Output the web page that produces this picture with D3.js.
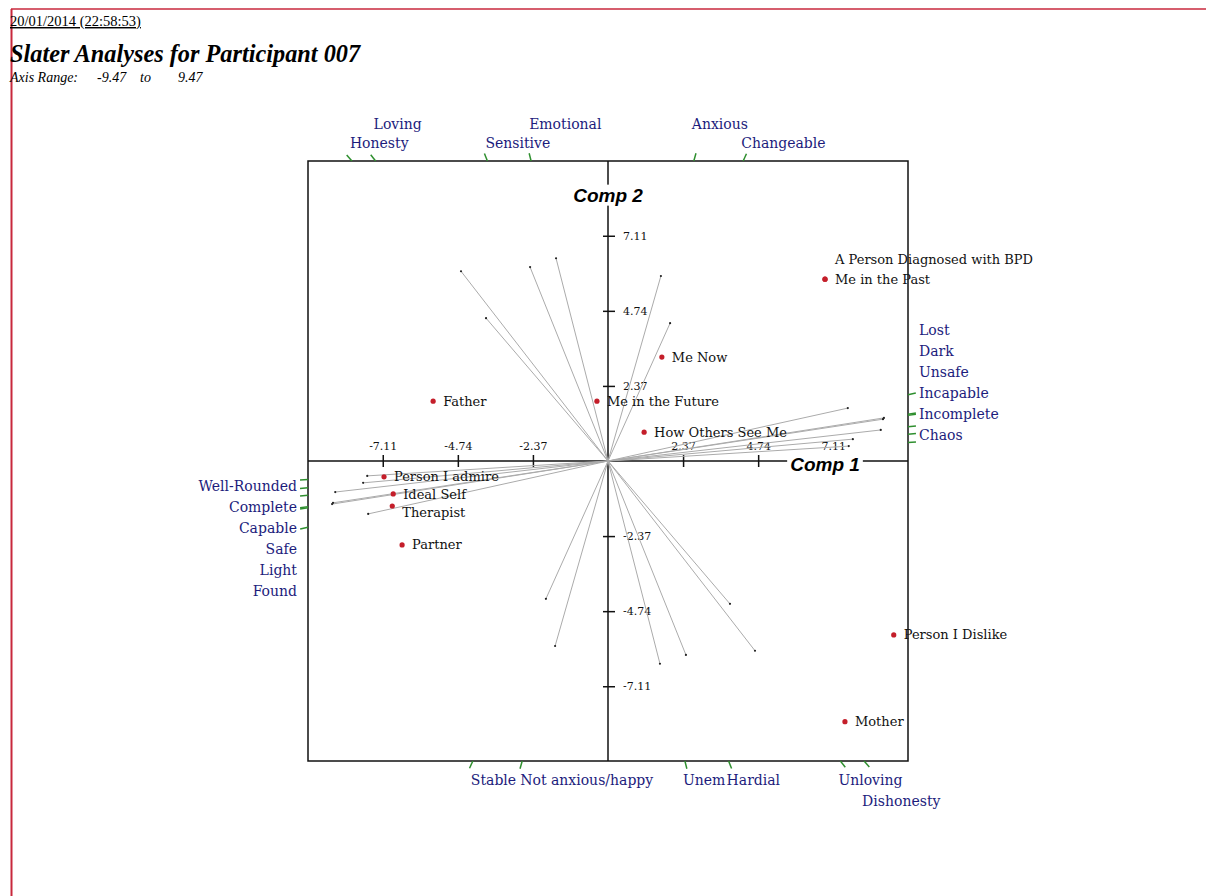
<!DOCTYPE html>
<html>
<head>
<meta charset="utf-8">
<script src="https://cdn.jsdelivr.net/npm/d3@7"></script>
<style>
  body { margin: 0; background: #fff; }
</style>
</head>
<body>
<div id="chart"></div>
<script>
// header text
const stamp = "20/01/2014 (22:58:53)";
const title = "Slater Analyses for Participant 007";
const axisRange = 9.47;
const tickValues = [-7.11, -4.74, -2.37, 2.37, 4.74, 7.11];

// elements: Comp 1 / Comp 2 scores
const elementNames = ["Me in the Past", "A Person Diagnosed with BPD", "Me Now", "Me in the Future",
    "How Others See Me", "Father", "Person I admire", "Ideal Self", "Therapist", "Partner",
    "Person I Dislike", "Mother"];
const elementX = [6.85, 6.85, 1.70, -0.35, 1.14, -5.52, -7.07, -6.78, -6.81, -6.50, 9.02, 7.48];
const elementY = [5.74, 5.74, 3.28, 1.89, 0.91, 1.89, -0.50, -1.04, -1.42, -2.65, -5.49, -8.23];

// constructs: one pole, opposite pole, loadings
const poleA = ["Loving", "Honesty", "Emotional", "Sensitive", "Anxious", "Changeable",
    "Lost", "Dark", "Unsafe", "Incapable", "Incomplete", "Chaos"];
const poleB = ["Unloving", "Dishonesty", "Unem", "Hardial", "Not anxious/happy", "Stable",
    "Found", "Light", "Safe", "Capable", "Complete", "Well-Rounded"];
const constructX = [-4.64, -3.85, -1.64, -2.46, 1.67, 1.96, 8.61, 7.73, 8.71, 7.57, 8.68, 7.60];
const constructY = [5.99, 4.51, 6.40, 6.12, 5.84, 4.35, 0.98, 0.69, 1.36, 1.67, 1.32, 0.47];

// labels that go on the outer row above / below the frame
const outerRow = ["Loving", "Emotional", "Anxious", "Dishonesty"];

const svgWidth = 1206;
const svgHeight = 896;
const frame = { left: 308, right: 908, top: 161, bottom: 761 };
const serif = "'DejaVu Serif', serif";
const times = "'Liberation Serif', serif";
const navy = "#1c1c7c";
const tickGreen = "#2f8f2f";

let svg = d3.select("#chart").append("svg")
    .attr("width", svgWidth).attr("height", svgHeight)
    .style("display", "block");

// page border (red)
svg.append("line").attr("x1", 11).attr("x2", svgWidth).attr("y1", 9).attr("y2", 9)
    .attr("stroke", "#c8283c").attr("stroke-width", 1.5);
svg.append("line").attr("x1", 11.5).attr("x2", 11.5).attr("y1", 9).attr("y2", svgHeight)
    .attr("stroke", "#c8283c").attr("stroke-width", 2);

// header
svg.append("text").attr("x", 10).attr("y", 26)
    .attr("font-family", times).attr("font-size", 14.5)
    .attr("text-decoration", "underline").text(stamp);
svg.append("text").attr("x", 10).attr("y", 62)
    .attr("font-family", times).attr("font-size", 24.3)
    .attr("font-weight", "bold").attr("font-style", "italic").text(title);
let range = svg.append("text").attr("y", 82)
    .attr("font-family", times).attr("font-size", 14).attr("font-style", "italic");
range.append("tspan").attr("x", 10).text("Axis Range:");
range.append("tspan").attr("x", 97).text(`-${axisRange.toFixed(2)}`);
range.append("tspan").attr("x", 140).text("to");
range.append("tspan").attr("x", 178).text(axisRange.toFixed(2));

let x = d3.scaleLinear().domain([-axisRange, axisRange]).range([frame.left, frame.right]);
let y = d3.scaleLinear().domain([-axisRange, axisRange]).range([frame.bottom, frame.top]);
const cx = x(0), cy = y(0);

// frame
svg.append("rect")
    .attr("x", frame.left).attr("y", frame.top)
    .attr("width", frame.right - frame.left).attr("height", frame.bottom - frame.top)
    .attr("fill", "none").attr("stroke", "#111").attr("stroke-width", 1.5);

// axis lines
svg.append("line").attr("x1", frame.left).attr("x2", frame.right).attr("y1", cy).attr("y2", cy)
    .attr("stroke", "#111").attr("stroke-width", 1.5);
svg.append("line").attr("x1", cx).attr("x2", cx).attr("y1", frame.top).attr("y2", frame.bottom)
    .attr("stroke", "#111").attr("stroke-width", 1.5);

// ticks
const fmt = d => d.toFixed(2);
let xAxis = svg.append("g").attr("transform", `translate(0,${cy})`)
    .call(d3.axisTop(x).tickValues(tickValues).tickFormat(fmt).tickSize(6).tickPadding(5));
let yAxis = svg.append("g").attr("transform", `translate(${cx},0)`)
    .call(d3.axisRight(y).tickValues(tickValues).tickFormat(fmt).tickSize(6).tickPadding(9));
[xAxis, yAxis].forEach(g => {
    g.select(".domain").remove();
    g.selectAll("text").attr("font-family", serif).attr("font-size", 11).attr("fill", "#111");
    g.selectAll("line").attr("stroke", "#111").attr("stroke-width", 1.5);
});
xAxis.selectAll(".tick line").attr("y1", -6).attr("y2", 6);
yAxis.selectAll(".tick line").attr("x1", -5).attr("x2", 7);

// construct vectors, drawn through the origin both ways
const constructs = poleA.map((p, i) => ({ a: p, b: poleB[i], vx: constructX[i], vy: constructY[i] }));
let vec = svg.append("g");
constructs.forEach(c => {
    [1, -1].forEach(s => {
        vec.append("line")
            .attr("x1", cx).attr("y1", cy)
            .attr("x2", x(s * c.vx)).attr("y2", y(s * c.vy))
            .attr("stroke", "#ababab").attr("stroke-width", 1);
        vec.append("circle")
            .attr("cx", x(s * c.vx)).attr("cy", y(s * c.vy)).attr("r", 1.1)
            .attr("fill", "#222");
    });
});

// pole labels where each construct direction meets the frame
const half = (frame.right - frame.left) / 2;
let poles = [];
constructs.forEach(c => {
    [[1, c.a], [-1, c.b]].forEach(([s, name]) => {
        let dx = x(s * c.vx) - cx, dy = y(s * c.vy) - cy;
        let t = Math.min(half / Math.abs(dx), half / Math.abs(dy));
        let side = Math.abs(dx) > Math.abs(dy) ? (dx > 0 ? "right" : "left") : (dy < 0 ? "top" : "bottom");
        let len = Math.hypot(dx, dy);
        poles.push({ name, side, px: cx + dx * t, py: cy + dy * t, ux: dx / len, uy: dy / len });
    });
});

let poleG = svg.append("g");
poles.forEach(p => {
    poleG.append("line")
        .attr("x1", p.px).attr("y1", p.py)
        .attr("x2", p.px + p.ux * 8).attr("y2", p.py + p.uy * 8)
        .attr("stroke", tickGreen).attr("stroke-width", 1.5);
});

const rowStep = 21;
let rightPoles = poles.filter(p => p.side === "right");
let leftPoles = poles.filter(p => p.side === "left").reverse();
rightPoles.forEach((p, i) => { p.lx = frame.right + 11; p.ly = 330 + i * rowStep; p.anchor = "start"; });
leftPoles.forEach((p, i) => { p.lx = frame.left - 11; p.ly = 486 + i * rowStep; p.anchor = "end"; });
poles.filter(p => p.side === "top").forEach(p => {
    p.lx = p.px - 2; p.ly = outerRow.includes(p.name) ? 124 : 143; p.anchor = "start";
});
poles.filter(p => p.side === "bottom").forEach(p => {
    p.lx = p.px - 2; p.ly = outerRow.includes(p.name) ? 801 : 780; p.anchor = "start";
});

poleG.selectAll("text.pole").data(poles).enter().append("text")
    .attr("class", "pole")
    .attr("x", d => d.lx).attr("y", d => d.ly).attr("dy", "0.35em")
    .attr("text-anchor", d => d.anchor)
    .attr("font-family", serif).attr("font-size", 14)
    .attr("fill", navy)
    .text(d => d.name);

// elements
const elements = elementNames.map((n, i) => ({ name: n, ex: elementX[i], ey: elementY[i] }));
elements.forEach((d, i) => {
    d.lx = x(d.ex) + 10;
    d.ly = y(d.ey);
    let same = elements.slice(0, i).filter(e => e.ex === d.ex && e.ey === d.ey).length;
    d.ly -= same * 20;
});
// push apart labels that sit too close vertically
elements.forEach((d, i) => {
    elements.slice(0, i).forEach(e => {
        if (e.ex === d.ex && e.ey === d.ey) return;
        if (Math.abs(e.lx - d.lx) < 60 && d.ly > e.ly && d.ly - e.ly < 18) d.ly = e.ly + 18;
    });
});
let pts = svg.append("g");
pts.selectAll("circle").data(elements).enter().append("circle")
    .attr("cx", d => x(d.ex)).attr("cy", d => y(d.ey)).attr("r", 2.6)
    .attr("fill", "#c41e2a");
pts.selectAll("text").data(elements).enter().append("text")
    .attr("x", d => d.lx).attr("y", d => d.ly).attr("dy", "0.35em")
    .attr("font-family", serif).attr("font-size", 13).attr("fill", "#111")
    .text(d => d.name);

// component titles with white backing over the axis
function compLabel(text, px, py) {
    let g = svg.append("g");
    let t = g.append("text").attr("x", px).attr("y", py).attr("dy", "0.35em")
        .attr("text-anchor", "middle")
        .attr("font-family", "'Liberation Sans', Arial, sans-serif")
        .attr("font-size", 19).attr("font-weight", "bold").attr("font-style", "italic")
        .text(text);
    let b = t.node().getBBox();
    g.insert("rect", "text").attr("x", b.x - 3).attr("y", b.y).attr("width", b.width + 6)
        .attr("height", b.height).attr("fill", "#fff");
}
compLabel("Comp 2", cx, 195);
compLabel("Comp 1", x(6.85), 464);
</script>
</body>
</html>
